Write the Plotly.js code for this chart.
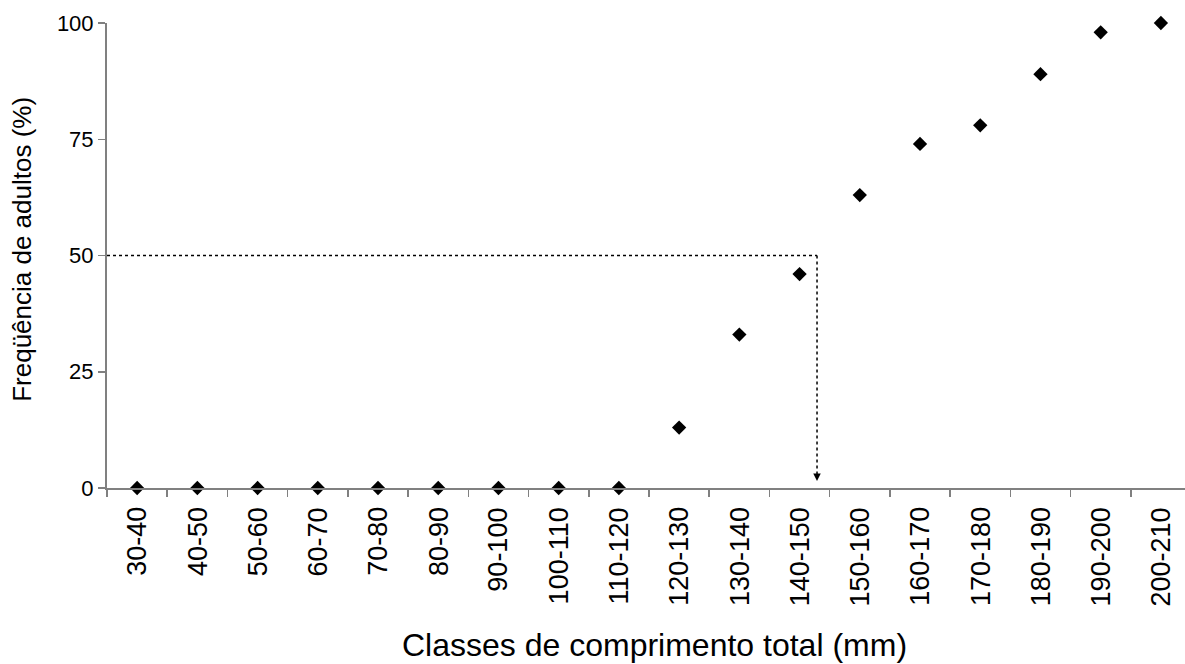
<!DOCTYPE html>
<html>
<head>
<meta charset="utf-8">
<script src="https://cdn.plot.ly/plotly-3.0.1.min.js"></script>
<style>html,body{margin:0;padding:0;background:#fff;}#chart{width:1185px;height:664px;}</style>
</head>
<body>
<div id="chart"></div>
<script>
const classes = ["30-40","40-50","50-60","60-70","70-80","80-90","90-100","100-110","110-120","120-130","130-140","140-150","150-160","160-170","170-180","180-190","190-200","200-210"];
const adultFreq = [0,0,0,0,0,0,0,0,0,13,33,46,63,74,78,89,98,100];
const yTicks = [0,25,50,75,100];
const xTitle = "Classes de comprimento total (mm)";
const yTitle = "Freqüência de adultos (%)";
const L50mm = 147.9;          // length at 50% maturity (mm)
const L50pct = 50;
const firstClassMid = 35, classWidth = 10;
const l50idx = (L50mm - firstClassMid) / classWidth;
const classIdx = classes.map((_, i) => i);

const font = "Liberation Sans";
const axisColor = "#808080";

const trace = {
  x: classIdx, y: adultFreq, type: "scatter", mode: "markers",
  marker: {symbol: "diamond", size: 11, color: "#000"},
  text: classes, cliponaxis: false, showlegend: false
};

const tickLabelAnns = classes.map((c, i) => ({
  xref: "x", yref: "paper", x: classIdx[i], y: -0.037, xanchor: "center", yanchor: "top",
  text: c, textangle: -90, showarrow: false, font: {size: 27, family: font, color: "#000"}
}));

const layout = {
  width: 1185, height: 664,
  margin: {l: 107, r: 0, t: 23, b: 176},
  paper_bgcolor: "#fff", plot_bgcolor: "#fff",
  font: {family: font, color: "#000"},
  xaxis: {
    type: "linear", range: [-0.5, 17.4],
    tickvals: classIdx, ticktext: classes, ticks: "", showticklabels: false,
    minor: {tick0: -0.5, dtick: 1, ticks: "outside", ticklen: 7, tickwidth: 1.5, tickcolor: axisColor, showgrid: false},
    showline: true, linecolor: axisColor, linewidth: 2, showgrid: false, zeroline: false,
    automargin: false
  },
  yaxis: {
    range: [0, 100], tickvals: yTicks, ticktext: yTicks.map(String),
    ticks: "outside", ticklen: 7, tickwidth: 1.5, tickcolor: axisColor,
    showline: true, linecolor: axisColor, linewidth: 2, showgrid: false, zeroline: false,
    tickfont: {size: 22, family: font, color: "#000"},
    automargin: false
  },
  shapes: [
    {type: "line", xref: "x", yref: "y", x0: -0.5, x1: l50idx, y0: L50pct, y1: L50pct,
     line: {color: "#000", width: 1.5, dash: "dot"}},
    {type: "line", xref: "x", yref: "y", x0: l50idx, x1: l50idx, y0: L50pct, y1: 2.5,
     line: {color: "#000", width: 1.5, dash: "dot"}}
  ],
  annotations: tickLabelAnns.concat([
    {xref: "x", yref: "y", x: l50idx, y: 1.5, axref: "x", ayref: "y", ax: l50idx, ay: 3,
     showarrow: true, arrowhead: 2, arrowsize: 1, arrowwidth: 1.5, arrowcolor: "#000", text: "", standoff: 0},
    {xref: "paper", yref: "paper", x: 0.508, y: -0.337, xanchor: "center", yanchor: "middle",
     text: xTitle, showarrow: false, font: {size: 32, family: font, color: "#000"}},
    {xref: "paper", yref: "paper", x: -0.079, y: 0.514, xanchor: "center", yanchor: "middle",
     text: yTitle, textangle: -90, showarrow: false, font: {size: 26, family: font, color: "#000"}}
  ])
};

Plotly.newPlot("chart", [trace], layout, {displayModeBar: false, staticPlot: true});
</script>
</body>
</html>
